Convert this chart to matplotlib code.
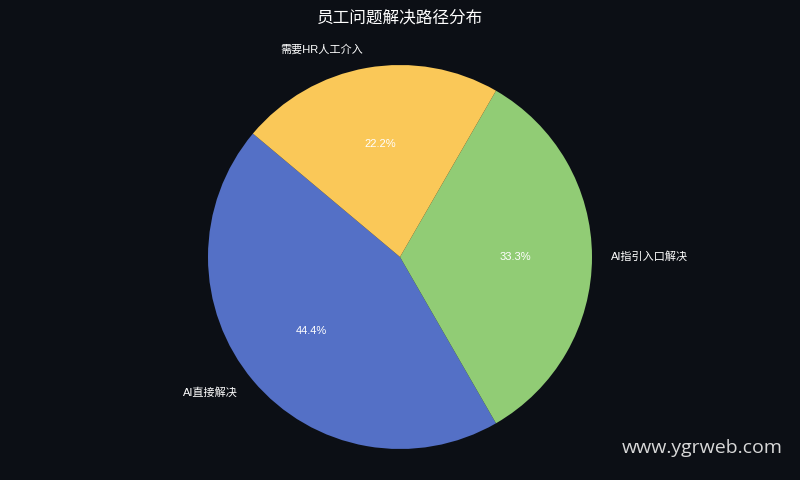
import matplotlib.pyplot as plt

plt.rcParams['font.family'] = ['Liberation Sans', 'Noto Sans CJK SC', 'DejaVu Sans']

labels = ['AI直接解决', 'AI指引入口解决', '需要HR人工介入']
values = [4, 3, 2]
colors = ['#5470c6', '#91cc75', '#fac858']
bg = '#0c0f15'

fig = plt.figure(figsize=(8, 4.8), dpi=100, facecolor=bg)
ax = fig.add_axes([0, 0, 1, 1])
ax.set_facecolor(bg)

wedges, texts, autotexts = ax.pie(values, labels=labels, colors=colors,
                                  autopct='%1.1f%%', startangle=140,
                                  textprops={'color': 'white', 'fontsize': 8})
# radius 192 px, centre at (400, 257) from top
ax.set_aspect('auto')
ax.set_xlim(-400 / 192, 400 / 192)
ax.set_ylim(-223 / 192, 257 / 192)

fig.text(0.5, 0.962, '员工问题解决路径分布', color='white', fontsize=12,
         ha='center', va='center')
fig.text(0.978, 0.067, 'www.ygrweb.com', color='#d8d8d8', fontsize=14,
         ha='right', va='center', family=['Open Sans', 'DejaVu Sans'])

fig.savefig('out.png', dpi=100, facecolor=bg)
